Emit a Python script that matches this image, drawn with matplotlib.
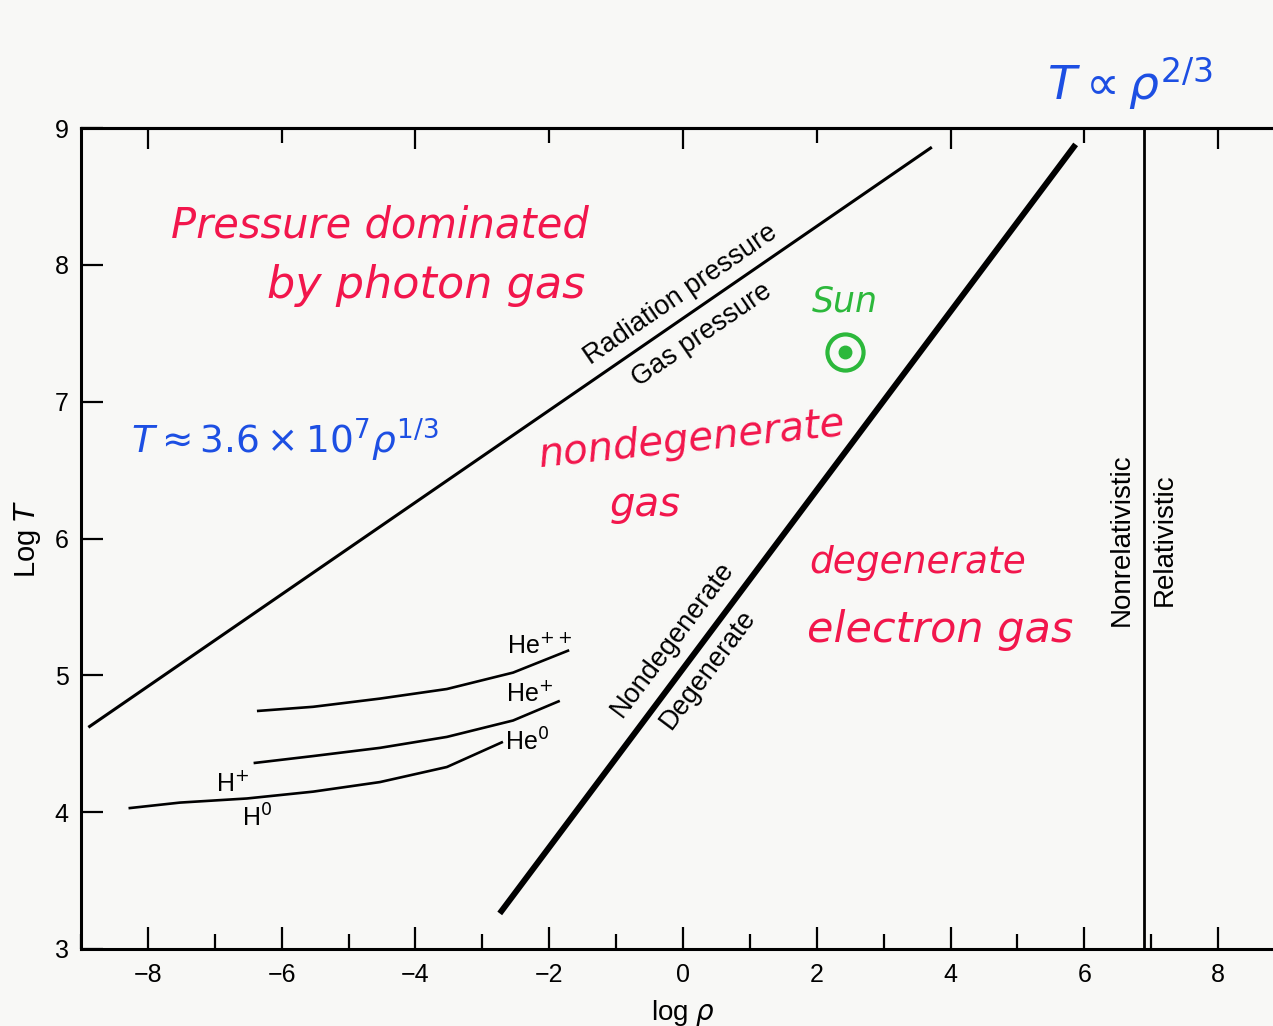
import matplotlib.pyplot as plt
from matplotlib.ticker import FixedLocator, MultipleLocator

plt.rcParams['font.family'] = ['Liberation Sans', 'DejaVu Sans']
plt.rcParams['mathtext.fontset'] = 'dejavusans'

# boundary between radiation and gas pressure (T ~ rho^1/3)
rad_x = [-8.89, 3.72]
rad_y = [4.62, 8.86]

# boundary between degenerate and nondegenerate electrons (T ~ rho^2/3)
deg_x = [-2.74, 5.87]
deg_y = [3.26, 8.88]

# relativistic limit
rel_x = 6.89

# ionisation curves
h_x = [-8.27, -7.52, -6.52, -5.53, -4.53, -3.53, -2.71]
h_y = [4.03, 4.07, 4.10, 4.15, 4.22, 4.33, 4.51]
he0_x = [-6.40, -5.53, -4.53, -3.53, -2.54, -1.86]
he0_y = [4.36, 4.41, 4.47, 4.55, 4.67, 4.81]
hep_x = [-6.35, -5.53, -4.53, -3.53, -2.54, -1.72]
hep_y = [4.74, 4.77, 4.83, 4.90, 5.02, 5.18]

ion_labels = ['He$^{++}$', 'He$^{+}$', 'He$^{0}$', 'H$^{+}$', 'H$^{0}$']
ion_lx = [-2.14, -2.29, -2.33, -6.73, -6.37]
ion_ly = [5.22, 4.87, 4.51, 4.21, 3.96]

# position of the Sun's centre
sun_x, sun_y = 2.42, 7.36

x_major = [-8, -6, -4, -2, 0, 2, 4, 6, 8]
y_major = [3, 4, 5, 6, 7, 8, 9]

paper = '#f8f8f6'
red = '#f2164c'
blue = '#1d4fe3'
green = '#2cb83b'

fig = plt.figure(figsize=(12.73, 10.26), dpi=100, facecolor=paper)
ax = fig.add_axes([81 / 1273, 77 / 1026, 1204 / 1273, 821 / 1026])
ax.set_facecolor(paper)
ax.set_xlim(-9, 9)
ax.set_ylim(3, 9)

for s in ax.spines.values():
    s.set_linewidth(2.2)

ax.xaxis.set_major_locator(FixedLocator(x_major))
ax.xaxis.set_minor_locator(MultipleLocator(1))
ax.yaxis.set_major_locator(FixedLocator(y_major))
ax.set_xticklabels([f'{v:d}'.replace('-', '\u2212') for v in x_major])
ax.tick_params(axis='x', which='major', direction='in', length=16, width=1.6,
               labelsize=18, pad=10, top=False)
ax.tick_params(axis='x', which='minor', direction='in', length=11, width=1.6, top=False)
ax.tick_params(axis='y', which='major', direction='in', length=16, width=1.6,
               labelsize=18, pad=9, right=False)

# top axis carries only unlabelled ticks
top = ax.secondary_xaxis('top')
top.xaxis.set_major_locator(FixedLocator([-8, -4, 0, 4, 8]))
top.xaxis.set_minor_locator(FixedLocator([-6, -2, 2, 6]))
top.tick_params(which='major', direction='in', length=15, width=1.6, labeltop=False)
top.tick_params(which='minor', direction='in', length=11, width=1.6)
top.spines['top'].set_linewidth(2.2)

ax.set_xlabel(r'log $\rho$', fontsize=20, labelpad=8)
ax.set_ylabel(r'Log $T$', fontsize=21, labelpad=8)

ax.plot(rad_x, rad_y, color='black', lw=2.2, solid_capstyle='butt')
ax.plot(deg_x, deg_y, color='black', lw=4.3, solid_capstyle='butt')
ax.axvline(rel_x, color='black', lw=2.0)
for xs, ys in [(h_x, h_y), (he0_x, he0_y), (hep_x, hep_y)]:
    ax.plot(xs, ys, color='black', lw=1.9, solid_joinstyle='round')

for lab, lx, ly in zip(ion_labels, ion_lx, ion_ly):
    ax.text(lx, ly, lab, fontsize=18, ha='center', va='center')

# printed region labels
ax.text(-0.04, 7.78, 'Radiation pressure', fontsize=19.5, rotation=34.5,
        ha='center', va='center', rotation_mode='anchor')
ax.text(0.28, 7.49, 'Gas pressure', fontsize=19.5, rotation=34.5,
        ha='center', va='center', rotation_mode='anchor')
ax.text(-0.15, 5.26, 'Nondegenerate', fontsize=19.5, rotation=53.1,
        ha='center', va='center', rotation_mode='anchor')
ax.text(0.37, 5.04, 'Degenerate', fontsize=19.5, rotation=53.1,
        ha='center', va='center', rotation_mode='anchor')
ax.text(6.56, 5.99, 'Nonrelativistic', fontsize=20, rotation=90,
        ha='center', va='center')
ax.text(7.20, 5.99, 'Relativistic', fontsize=20, rotation=90,
        ha='center', va='center')

# hand-written notes
hand = dict(family=['DejaVu Sans'], style='oblique')
ax.text(-4.53, 8.29, 'Pressure dominated', color=red, fontsize=30,
        ha='center', va='center', **hand)
ax.text(-3.84, 7.85, 'by photon gas', color=red, fontsize=32,
        ha='center', va='center', **hand)
ax.text(0.13, 6.72, 'nondegenerate', color=red, fontsize=29, rotation=6,
        ha='center', va='center', **hand)
ax.text(-0.57, 6.25, 'gas', color=red, fontsize=29,
        ha='center', va='center', **hand)
ax.text(3.51, 5.82, 'degenerate', color=red, fontsize=27,
        ha='center', va='center', **hand)
ax.text(3.84, 5.33, 'electron gas', color=red, fontsize=31,
        ha='center', va='center', **hand)

ax.text(-5.95, 6.72, r'$T\approx 3.6\times10^{7}\rho^{1/3}$', color=blue,
        fontsize=27, ha='center', va='center')
ax.text(6.68, 9.21, r'$T\propto\rho^{2/3}$', color=blue, fontsize=34,
        ha='center', va='baseline', clip_on=False)

ax.text(sun_x, sun_y + 0.37, 'Sun', color=green, fontsize=25,
        ha='center', va='center', **hand)
ax.plot(sun_x, sun_y, 'o', ms=26, mfc='none', mec=green, mew=3)
ax.plot(sun_x, sun_y, 'o', ms=9, mfc=green, mec=green)

fig.savefig('out.png', dpi=100, facecolor=paper)
